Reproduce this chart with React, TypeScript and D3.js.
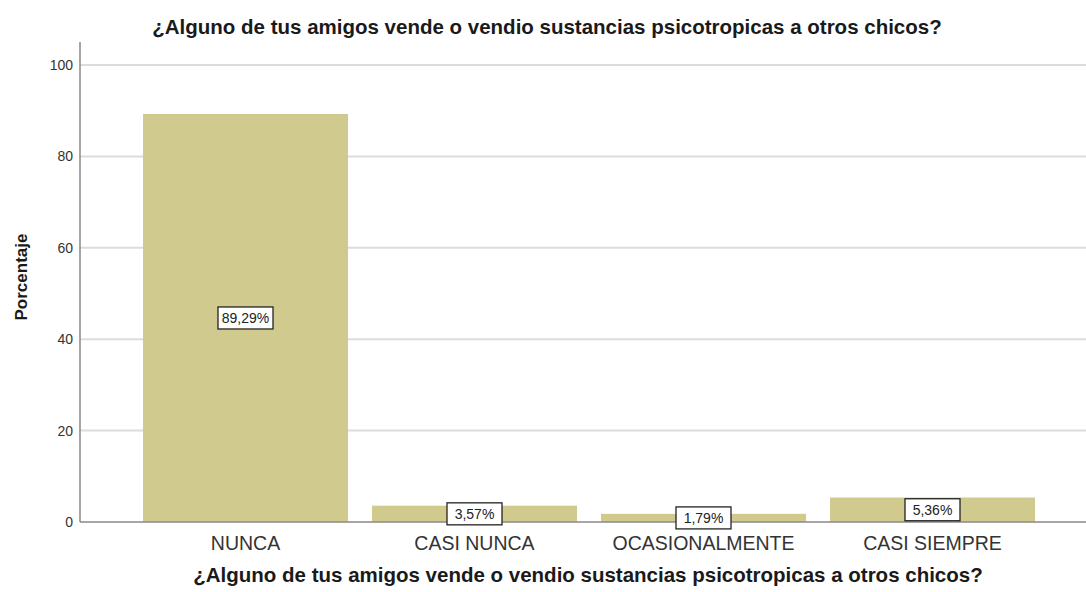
import React from "react";
import * as d3 from "d3";

const categories = ["NUNCA", "CASI NUNCA", "OCASIONALMENTE", "CASI SIEMPRE"];
const values = [89.29, 3.57, 1.79, 5.36];
const valueLabels = ["89,29%", "3,57%", "1,79%", "5,36%"];
const yTicks = [0, 20, 40, 60, 80, 100];
const title = "¿Alguno de tus amigos vende o vendio sustancias psicotropicas a otros chicos?";
const yTitle = "Porcentaje";

const W = 1086, H = 592;
const font = "'Liberation Sans', Arial, sans-serif";

export default function App() {
  const axisX = 80;
  const y = d3.scaleLinear().domain([0, 100]).range([522, 65]);
  const x = d3.scaleBand<string>().domain(categories).range([143, 1035]).paddingInner(0.1048).paddingOuter(0);
  return (
    <svg width={W} height={H} style={{ position: "absolute", left: 0, top: 0, background: "#fff" }}>
      <text x={547} y={34} textAnchor="middle" fontFamily={font} fontWeight="bold" fontSize={20.5} fill="#1a1a1a">{title}</text>
      {yTicks.filter(t => t > 0).map(t => (
        <line key={t} x1={axisX} x2={1086} y1={y(t)} y2={y(t)} stroke="#dcdcdc" strokeWidth={2} />
      ))}
      {categories.map((c, i) => (
        <rect key={c} x={x(c)} y={y(values[i])} width={x.bandwidth()} height={y(0) - y(values[i])} fill="#d0ca8e" />
      ))}
      <line x1={axisX} x2={axisX} y1={42} y2={522} stroke="#888" strokeWidth={1.5} />
      <line x1={axisX} x2={1086} y1={522} y2={522} stroke="#888" strokeWidth={1.5} />
      {yTicks.map(t => (
        <text key={t} x={73} y={y(t) + 5} textAnchor="end" fontFamily={font} fontSize={14} fill="#333">{t}</text>
      ))}
      {categories.map((c, i) => {
        const cx = (x(c) as number) + x.bandwidth() / 2;
        const cy = (y(values[i]) + y(0)) / 2;
        const bw = 55, bh = 22;
        return (
          <g key={c}>
            <rect x={cx - bw / 2} y={cy - bh / 2} width={bw} height={bh} fill="#fff" stroke="#222" strokeWidth={1.3} />
            <text x={cx} y={cy + 5} textAnchor="middle" fontFamily={font} fontSize={14} fill="#222">{valueLabels[i]}</text>
            <text x={cx} y={550} textAnchor="middle" fontFamily={font} fontSize={19.5} fill="#333">{c}</text>
          </g>
        );
      })}
      <text x={588} y={582} textAnchor="middle" fontFamily={font} fontWeight="bold" fontSize={20.5} fill="#1a1a1a">{title}</text>
      <text transform={`translate(27, 277) rotate(-90)`} textAnchor="middle" fontFamily={font} fontWeight="bold" fontSize={17} fill="#1a1a1a">{yTitle}</text>
    </svg>
  );
}
